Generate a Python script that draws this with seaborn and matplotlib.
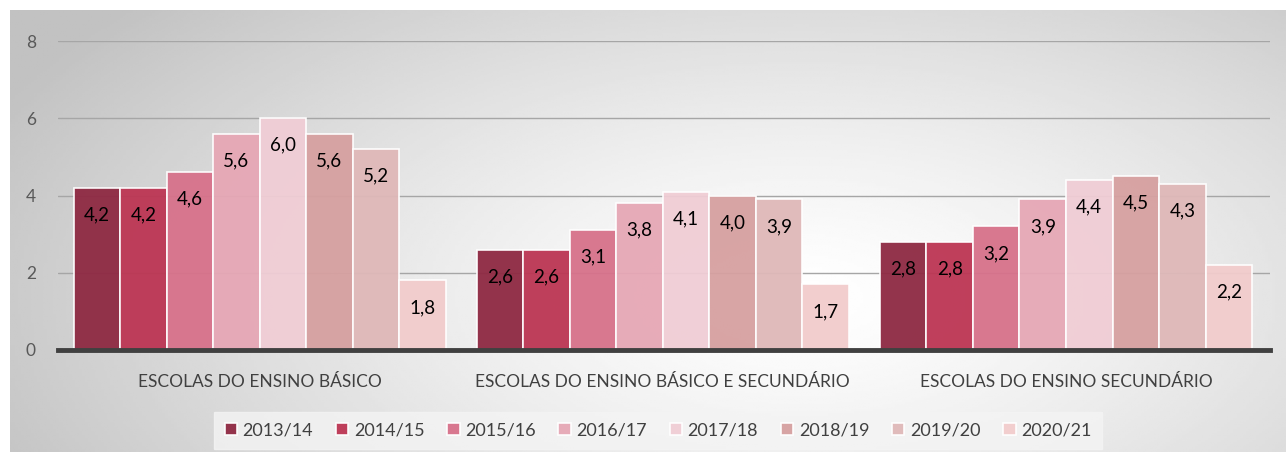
import numpy as np
import pandas as pd
import matplotlib.pyplot as plt
import seaborn as sns

# Data
escolas = ["ESCOLAS DO ENSINO BÁSICO",
           "ESCOLAS DO ENSINO BÁSICO E SECUNDÁRIO",
           "ESCOLAS DO ENSINO SECUNDÁRIO"]
anos = ["2013/14", "2014/15", "2015/16", "2016/17",
        "2017/18", "2018/19", "2019/20", "2020/21"]
basico = [4.2, 4.2, 4.6, 5.6, 6.0, 5.6, 5.2, 1.8]
basico_sec = [2.6, 2.6, 3.1, 3.8, 4.1, 4.0, 3.9, 1.7]
secundario = [2.8, 2.8, 3.2, 3.9, 4.4, 4.5, 4.3, 2.2]
cores = ["#8E2942", "#BC3553", "#D7718A", "#E6A7B5",
         "#F0CDD5", "#D6A0A0", "#DFB8B8", "#F2CCCC"]

rows = []
for esc, vals in zip(escolas, [basico, basico_sec, secundario]):
    for ano, v in zip(anos, vals):
        rows.append({"escola": esc, "ano": ano, "valor": v})
df = pd.DataFrame(rows)

sns.set_theme(style="white")
plt.rcParams["font.family"] = ["Lato", "DejaVu Sans"]

fig = plt.figure(figsize=(12.86, 4.57), dpi=100)

# fundo com gradiente radial
bg = fig.add_axes([10 / 1286, 5 / 457, 1276 / 1286, 442 / 457], zorder=-10)
yy, xx = np.mgrid[0:1:200j, 0:1:400j]
r = np.sqrt(((xx - 0.62) / 0.7) ** 2 + ((yy - 0.65) / 1.0) ** 2)
img = 1.0 - 0.24 * np.clip(r, 0, 1) ** 1.3
bg.imshow(img, cmap="gray", vmin=0, vmax=1, aspect="auto", extent=[0, 1, 0, 1])
bg.set_axis_off()

ax = fig.add_axes([58 / 1286, 107 / 457, 1212 / 1286, 309 / 457])
ax.patch.set_alpha(0)

sns.barplot(data=df, x="escola", y="valor", hue="ano", hue_order=anos,
            palette=cores, width=0.923, saturation=1, ax=ax,
            edgecolor="white", linewidth=1.2, zorder=3, alpha=0.95)

for cont in ax.containers:
    for bar in cont:
        h = bar.get_height()
        ax.text(bar.get_x() + bar.get_width() / 2, h - 0.7,
                f"{h:.1f}".replace(".", ","), ha="center", va="center",
                fontsize=13.5, color="black", zorder=5)

ax.set_ylim(0, 8)
ax.set_xlim(-0.5, 2.506)
ax.set_yticks([0, 2, 4, 6, 8])
ax.yaxis.grid(True, color="#a6a6a6", linewidth=1, zorder=0)
ax.set_axisbelow(True)
for s in ["top", "right", "left"]:
    ax.spines[s].set_visible(False)
ax.spines["bottom"].set_color("#404040")
ax.spines["bottom"].set_linewidth(3.5)
ax.spines["bottom"].set_zorder(6)
ax.tick_params(axis="y", labelsize=12.5, colors="#595959", length=0, pad=16)
ax.tick_params(axis="x", labelsize=12.5, colors="#404040", length=0, pad=17)
ax.set_xlabel("")
ax.set_ylabel("")

ax.legend(loc="upper center", bbox_to_anchor=(0.495, -0.17), ncol=8,
          frameon=True, fontsize=13, handlelength=0.7, handleheight=0.7,
          handletextpad=0.3, columnspacing=1.25, facecolor="#f4f4f4",
          edgecolor="#f4f4f4", fancybox=False, borderpad=0.6,
          labelcolor="#404040")

fig.savefig("out.png", dpi=100)
